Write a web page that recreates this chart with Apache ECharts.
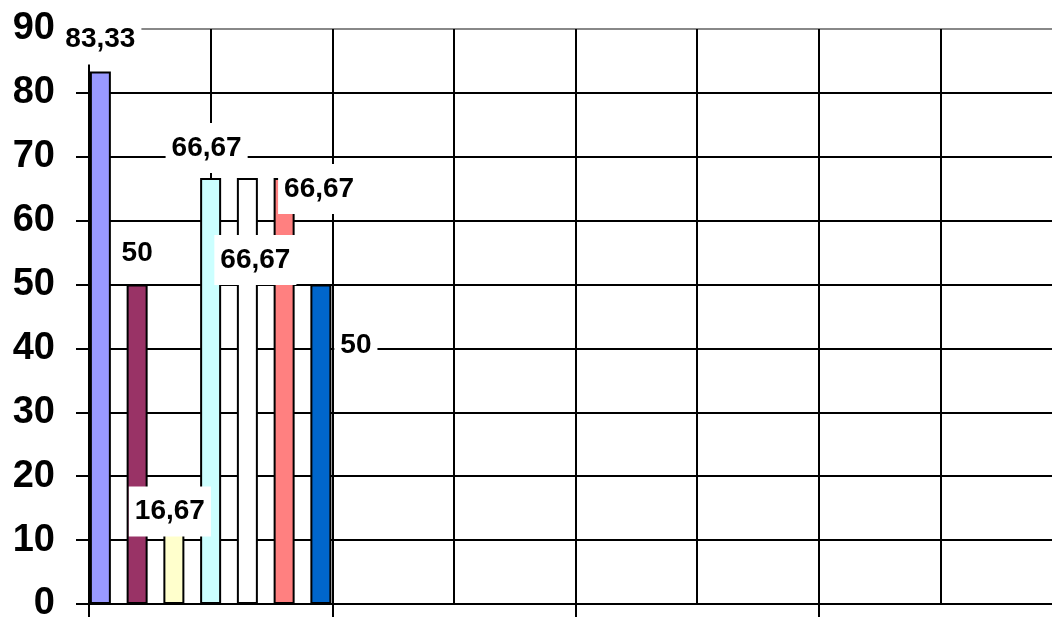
<!DOCTYPE html>
<html>
<head>
<meta charset="utf-8">
<script src="https://cdn.jsdelivr.net/npm/echarts@6/dist/echarts.min.js"></script>
<style>
  html, body { margin: 0; padding: 0; width: 100%; height: 100%; overflow: hidden; background: #fff; }
  #chart { position: absolute; left: 0; top: 0; width: 1064px; height: 617px; }
</style>
</head>
<body>
<div id="chart"></div>
<script>
// Four category slots; only the first one carries values.
const categories = ['', '', '', ''];

// One value per series (first slot), in percent.
const seriesNames = ['Ряд 1', 'Ряд 2', 'Ряд 3', 'Ряд 4', 'Ряд 5', 'Ряд 6', 'Ряд 7'];
const series1 = [83.33, null, null, null];
const series2 = [50, null, null, null];
const series3 = [16.67, null, null, null];
const series4 = [66.67, null, null, null];
const series5 = [66.67, null, null, null];
const series6 = [66.67, null, null, null];
const series7 = [50, null, null, null];

const yTicks = [0, 10, 20, 30, 40, 50, 60, 70, 80, 90];

const allValues = [series1, series2, series3, series4, series5, series6, series7];
const colors = ['#9999FF', '#993366', '#FFFFCC', '#CCFFFF', '#FFFFFF', '#FF8080', '#0066CC'];
// Label nudges relative to the top of each bar (dx, dy) and drawing order.
const labelOffsets = [[0, -7], [0, -6], [-4, 39], [-4, -5], [8, 107], [35, 36], [35, 86]];
const zOrder = [2, 2, 4, 2, 4, 2, 2];

const fmt = p => String(p.value).replace('.', ',');

const chart = echarts.init(document.getElementById('chart'), null, { renderer: 'canvas' });

const gridLineColors = yTicks.map((t, i) => i === yTicks.length - 1 ? '#888888' : '#000000');

chart.setOption({
  animation: false,
  backgroundColor: '#ffffff',
  // the plot runs a little past the right and bottom edges of the page
  grid: { left: 89, right: 2, top: 29, bottom: 13, containLabel: false, outerBoundsMode: 'none' },
  xAxis: [
    {
      type: 'category',
      data: categories,
      boundaryGap: true,
      axisLine: { lineStyle: { color: '#000', width: 2 } },
      axisTick: { show: true, length: 16, lineStyle: { color: '#000', width: 2 } },
      axisLabel: { show: false },
      splitLine: { show: false }
    },
    {
      // half-slot vertical grid
      type: 'value',
      min: 0, max: 8, interval: 1,
      position: 'bottom',
      axisLine: { show: false },
      axisTick: { show: false },
      axisLabel: { show: false },
      splitLine: { show: true, lineStyle: { color: '#000', width: 2 } }
    }
  ],
  yAxis: {
    type: 'value',
    min: yTicks[0], max: yTicks[yTicks.length - 1], interval: 10,
    axisLine: { show: true, lineStyle: { color: '#000', width: 2 } },
    axisTick: { show: true, length: 13, lineStyle: { color: '#000', width: 2 } },
    axisLabel: {
      margin: 34,
      color: '#000',
      fontFamily: 'Liberation Sans, Arial, sans-serif',
      fontWeight: 'bold',
      fontSize: 38
    },
    splitLine: { show: true, lineStyle: { color: gridLineColors, width: 2 } }
  },
  series: allValues.map((vals, i) => ({
    name: seriesNames[i],
    type: 'bar',
    xAxisIndex: 0,
    data: vals,
    barWidth: 21,
    barGap: '75%',
    z: zOrder[i],
    itemStyle: { color: colors[i], borderColor: '#000', borderWidth: 2 },
    label: {
      show: true,
      position: 'top',
      distance: 0,
      offset: labelOffsets[i],
      formatter: fmt,
      color: '#000',
      fontFamily: 'Liberation Sans, Arial, sans-serif',
      fontWeight: 'bold',
      fontSize: 28,
      lineHeight: 32,
      backgroundColor: '#ffffff',
      padding: [9, 6]
    }
  }))
});
</script>
</body>
</html>
